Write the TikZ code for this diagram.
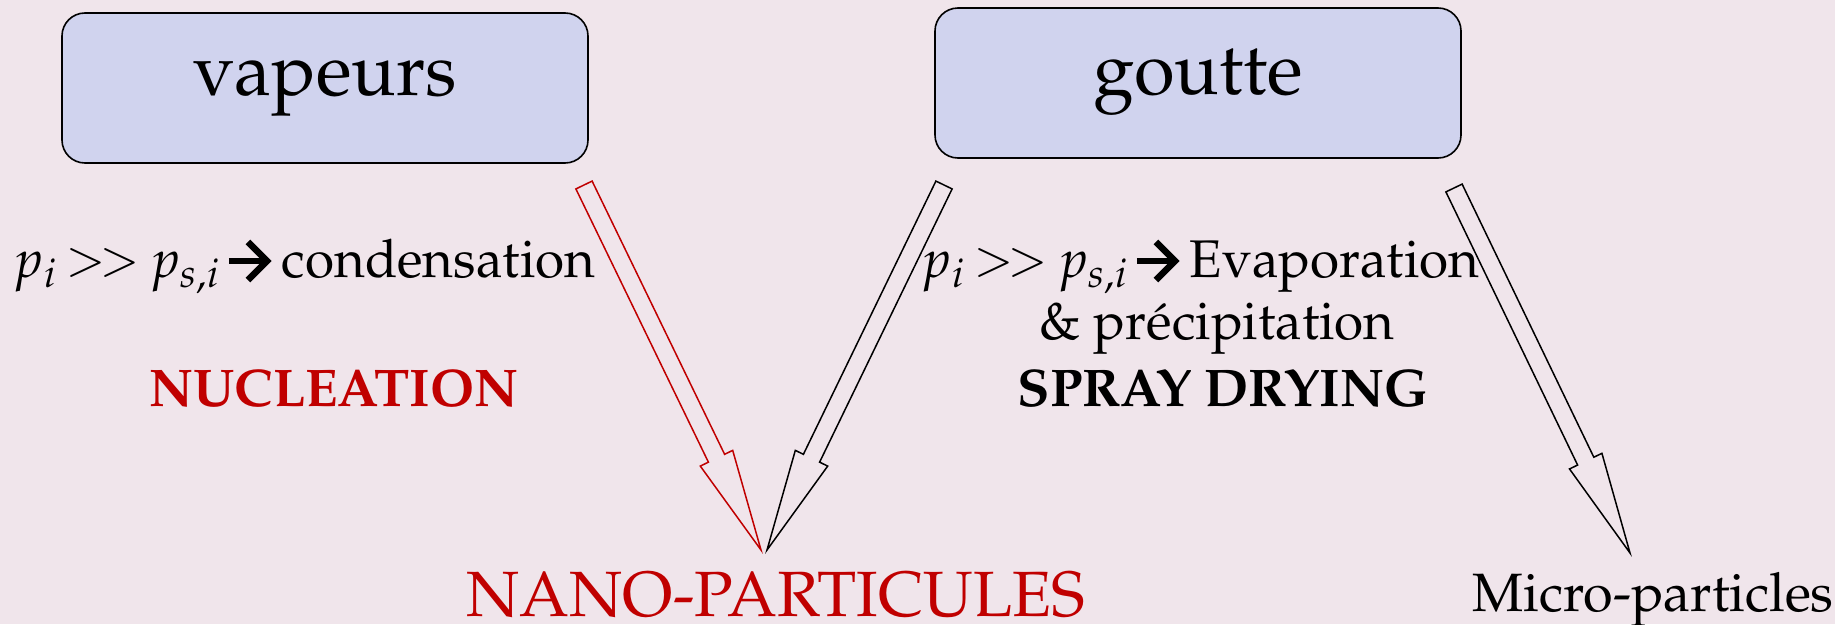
\documentclass[tikz,border=0pt]{standalone}
\usepackage[T1]{fontenc}
\usepackage{mathpazo}
\usetikzlibrary{calc}
\definecolor{bgc}{RGB}{240,229,235}
\definecolor{boxc}{RGB}{208,211,238}
\definecolor{redc}{RGB}{192,0,0}
\newcommand\blockarrow[3]{%
  \coordinate (hb) at ($(#3)!102pt!(#2)$);
  \draw[#1] ($(#2)!9pt!90:(#3)$) -- ($(hb)!9pt!-90:(#2)$) -- ($(hb)!18pt!-90:(#2)$) -- (#3)
    -- ($(hb)!18pt!90:(#2)$) -- ($(hb)!9pt!90:(#2)$) -- ($(#2)!9pt!-90:(#3)$) -- cycle;}
\newcommand\heavyarr{\tikz[baseline=0pt,x=1pt,y=1pt]{\path (-1,0) (42,0);
  \draw[line width=6.5pt,line join=miter,miter limit=4] (0,16) -- (37,16);
  \draw[line width=6.5pt,line join=miter,miter limit=4] (19,-3) -- (38,16) -- (19,35);}}
\newcommand\gtgt{\raisebox{1.5pt}{\fontsize{48}{48}\selectfont$>\mkern-2mu>$}}
\newcommand\pgg{$p_i$\hspace{9pt}\gtgt\hspace{9pt}$p_{s,i}$\hspace{6pt}\heavyarr\hspace{11pt}}
\begin{document}
\begin{tikzpicture}[x=1pt,y=-1pt,
  boxst/.style={draw=black,line width=1.6pt,fill=boxc,rounded corners=23pt,minimum width=526pt,minimum height=150pt,inner sep=0pt,font=\fontsize{74}{80}\selectfont},
  midtxt/.style={anchor=base,inner sep=0pt,font=\fontsize{53}{58}\selectfont},
  arrred/.style={draw=redc,line width=1.5pt,line join=miter},
  arrblk/.style={draw=black,line width=1.5pt,line join=miter}]
\fill[bgc] (0,0) rectangle (1835,624);
\useasboundingbox (0,0) rectangle (1835,624);
\node[boxst] (vap) at (325,88) {vapeurs};
\node[boxst] (gou) at (1198,83) {goutte};
\node[midtxt,anchor=base west] (cond) at (13,277) {\pgg condensation};
\node[midtxt,text=redc,font=\fontsize{53}{58}\selectfont\bfseries] (nucl) at (334,406) {NUCLEATION};
\node[midtxt,anchor=base west] (evap) at (921,277) {\pgg Evaporation};
\node[midtxt] (prec) at (1217,339) {\& précipitation};
\node[midtxt,font=\fontsize{53}{58}\selectfont\bfseries] (spray) at (1223,406) {SPRAY DRYING};
\node[anchor=base,inner sep=0pt,text=redc,font=\fontsize{64}{70}\selectfont] (nano) at (776,616) {NANO-PARTICULES};
\node[anchor=base east,inner sep=0pt,font=\fontsize{54}{60}\selectfont] (micro) at (1834,611) {Micro-particles};
\coordinate (t1) at (584,185);
\coordinate (p1) at (761,550);
\coordinate (t2) at (944,185);
\coordinate (p2) at (767,550);
\coordinate (t3) at (1454,188);
\coordinate (p3) at (1630,553);
\blockarrow{arrred}{t1}{p1}
\blockarrow{arrblk}{t2}{p2}
\blockarrow{arrblk}{t3}{p3}
\end{tikzpicture}
\end{document}
